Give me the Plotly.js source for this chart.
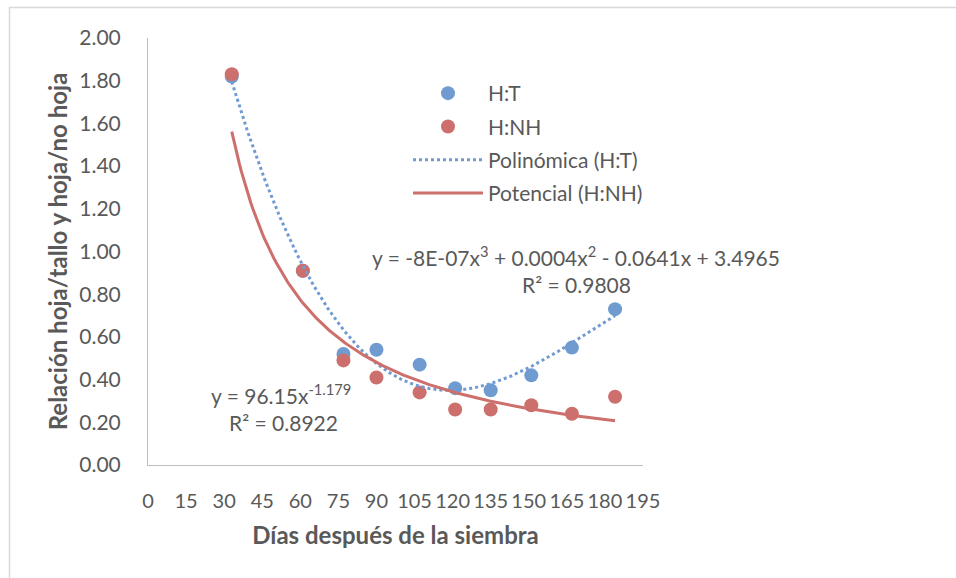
<!DOCTYPE html>
<html>
<head>
<meta charset="utf-8">
<script src="https://cdn.plot.ly/plotly-3.0.1.min.js"></script>
<style>html,body{margin:0;padding:0;background:#fff;}#chart{width:956px;height:578px;}</style>
</head>
<body>
<div id="chart"></div>
<script>
// Data
const dias = [33, 61, 77, 90, 107, 121, 135, 151, 167, 184];
const hojaTallo = [1.82, 0.91, 0.52, 0.54, 0.47, 0.36, 0.35, 0.42, 0.55, 0.73];
const hojaNoHoja = [1.83, 0.91, 0.49, 0.41, 0.34, 0.26, 0.26, 0.28, 0.24, 0.32];
const xTicks = [0, 15, 30, 45, 60, 75, 90, 105, 120, 135, 150, 165, 180, 195];
const yTicks = [0, 0.2, 0.4, 0.6, 0.8, 1.0, 1.2, 1.4, 1.6, 1.8, 2.0];
const polyEqText = 'y = -8E-07x<sup>3</sup> + 0.0004x<sup>2</sup> - 0.0641x + 3.4965';
const polyR2Text = 'R² = 0.9808';
const powEqText = 'y = 96.15x<sup>-1.179</sup>';
const powR2Text = 'R² = 0.8922';

// Least-squares cubic fit (as the spreadsheet trendline does)
function cubicFit(xs, ys) {
  const s = 100;
  const n = 4;
  const A = [], b = [];
  for (let i = 0; i < n; i++) { A.push(new Array(n).fill(0)); b.push(0); }
  xs.forEach((x, k) => {
    const t = x / s;
    for (let i = 0; i < n; i++) {
      for (let j = 0; j < n; j++) A[i][j] += Math.pow(t, i + j);
      b[i] += ys[k] * Math.pow(t, i);
    }
  });
  for (let i = 0; i < n; i++) {
    let p = i;
    for (let r = i + 1; r < n; r++) if (Math.abs(A[r][i]) > Math.abs(A[p][i])) p = r;
    [A[i], A[p]] = [A[p], A[i]]; [b[i], b[p]] = [b[p], b[i]];
    for (let r = i + 1; r < n; r++) {
      const f = A[r][i] / A[i][i];
      for (let c = i; c < n; c++) A[r][c] -= f * A[i][c];
      b[r] -= f * b[i];
    }
  }
  const c = new Array(n).fill(0);
  for (let i = n - 1; i >= 0; i--) {
    let sum = b[i];
    for (let j = i + 1; j < n; j++) sum -= A[i][j] * c[j];
    c[i] = sum / A[i][i];
  }
  return x => { const t = x / s; return c[0] + c[1] * t + c[2] * t * t + c[3] * t * t * t; };
}
function powerFit(xs, ys) {
  const lx = xs.map(Math.log), ly = ys.map(Math.log);
  const n = xs.length;
  const mx = lx.reduce((a, v) => a + v, 0) / n, my = ly.reduce((a, v) => a + v, 0) / n;
  let sxy = 0, sxx = 0;
  for (let i = 0; i < n; i++) { sxy += (lx[i] - mx) * (ly[i] - my); sxx += (lx[i] - mx) ** 2; }
  const bb = sxy / sxx, a = Math.exp(my - bb * mx);
  return x => a * Math.pow(x, bb);
}
const fPoly = cubicFit(dias, hojaTallo);
const fPow = powerFit(dias, hojaNoHoja);
const xmin = Math.min(...dias), xmax = Math.max(...dias);
const xs = [];
for (let i = 0; i <= 200; i++) xs.push(xmin + (xmax - xmin) * i / 200);

const blue = '#6F9BD1';
const red = '#CD6F6C';
const grey = '#595959';
const FONT = 'Lato, "Open Sans", sans-serif';
const FS = 21;

const traces = [
  {x: dias, y: hojaTallo, mode: 'markers', type: 'scatter', name: 'H:T', legendgroup: 'a',
   marker: {color: blue, size: 14}},
  {x: dias, y: hojaNoHoja, mode: 'markers', type: 'scatter', name: 'H:NH', legendgroup: 'b',
   marker: {color: red, size: 14}},
  {x: xs, y: xs.map(fPoly), mode: 'lines', type: 'scatter', name: 'Polinómica (H:T)', legendgroup: 'c',
   line: {color: blue, width: 3, dash: 'dot'}},
  {x: xs, y: xs.map(fPow), mode: 'lines', type: 'scatter', name: 'Potencial (H:NH)', legendgroup: 'd',
   line: {color: red, width: 3}}
];

const L = 148, R = 643, T = 38, B = 465;
const px = v => (v - L) / (R - L);
const py = v => (B - v) / (B - T);

const layout = {
  width: 956, height: 578,
  margin: {l: L, r: 956 - R, t: T, b: 578 - B},
  paper_bgcolor: '#fff', plot_bgcolor: '#fff',
  font: {family: FONT, color: grey, size: FS},
  showlegend: true,
  legend: {x: px(408), y: py(73), xanchor: 'left', yanchor: 'top', bgcolor: 'rgba(0,0,0,0)',
           font: {family: FONT, size: FS, color: grey}, itemwidth: 70, traceorder: 'grouped',
           tracegroupgap: 3},
  xaxis: {range: [0, 195], tickvals: xTicks, ticktext: xTicks.map(String), showgrid: false, zeroline: false,
          showline: true, linecolor: '#BFBFBF', linewidth: 1, ticks: '', ticklabelstandoff: 18, tickangle: 0,
          tickfont: {family: FONT, size: 20, color: grey},
          title: {text: '<b>Días después de la siembra</b>', font: {family: FONT, size: 24, color: grey}, standoff: 16}},
  yaxis: {range: [0, 2], tickvals: yTicks, ticktext: yTicks.map(v => v.toFixed(2)), showgrid: false, zeroline: false,
          showline: true, linecolor: '#BFBFBF', linewidth: 1, ticks: '', ticklabelstandoff: 22,
          tickfont: {family: FONT, size: FS, color: grey},
          title: {text: '<b>Relación hoja/tallo y hoja/no hoja</b>', font: {family: FONT, size: 24, color: grey}, standoff: 4}},
  annotations: [
    {xref: 'paper', yref: 'paper', x: px(576), y: py(256), text: polyEqText, showarrow: false,
     font: {family: FONT, size: FS, color: grey}, xanchor: 'center', yanchor: 'middle'},
    {xref: 'paper', yref: 'paper', x: px(576), y: py(284), text: polyR2Text, showarrow: false,
     font: {family: FONT, size: FS, color: grey}, xanchor: 'center', yanchor: 'middle'},
    {xref: 'paper', yref: 'paper', x: px(281), y: py(394), text: powEqText, showarrow: false,
     font: {family: FONT, size: FS, color: grey}, xanchor: 'center', yanchor: 'middle'},
    {xref: 'paper', yref: 'paper', x: px(283), y: py(422), text: powR2Text, showarrow: false,
     font: {family: FONT, size: FS, color: grey}, xanchor: 'center', yanchor: 'middle'}
  ],
  shapes: [
    {type: 'line', xref: 'paper', yref: 'paper', x0: px(9), x1: px(960), y0: py(7.5), y1: py(7.5),
     line: {color: '#D9D9D9', width: 1.5}},
    {type: 'line', xref: 'paper', yref: 'paper', x0: px(9.5), x1: px(9.5), y0: py(7), y1: py(580),
     line: {color: '#D9D9D9', width: 1.5}}
  ]
};
Plotly.newPlot('chart', traces, layout, {displayModeBar: false, staticPlot: true});
</script>
</body>
</html>
